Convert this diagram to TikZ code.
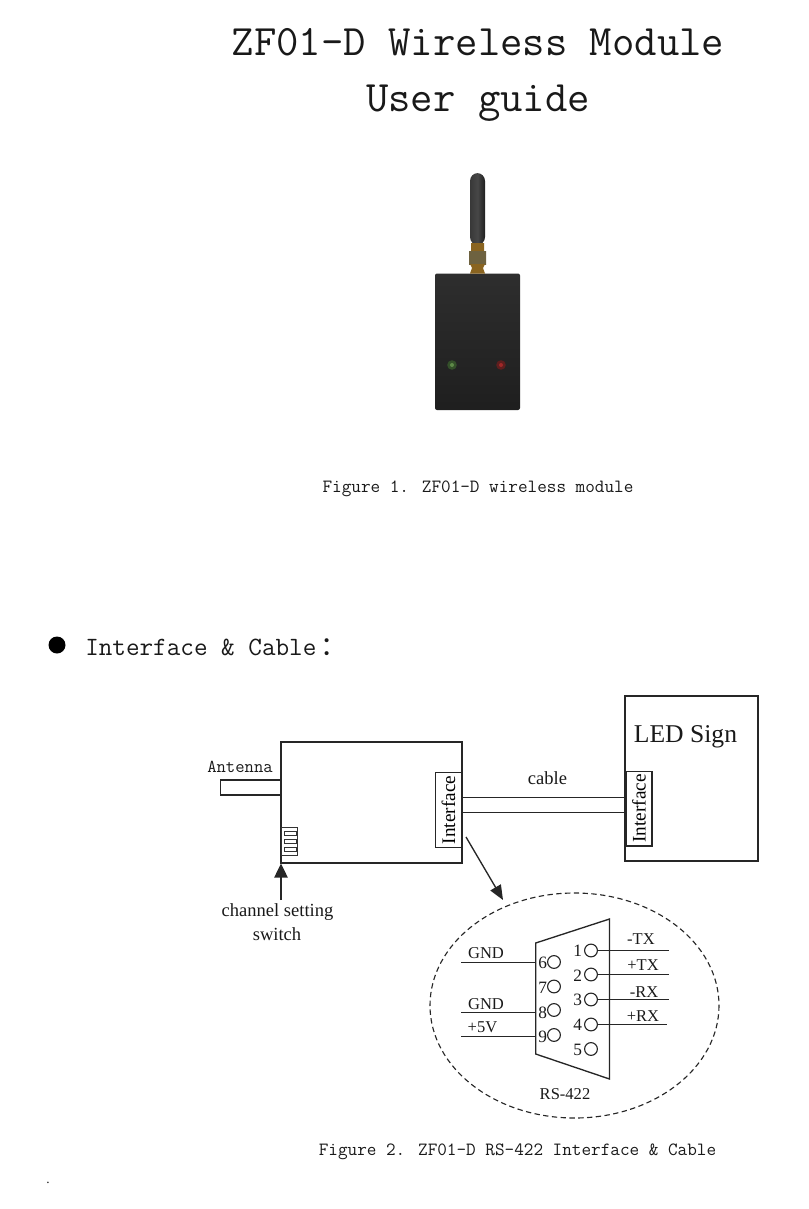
\documentclass[tikz,border=0pt]{standalone}
\usepackage{fontspec}
\setmainfont{Liberation Serif}
\newfontfamily\cjk{Noto Sans CJK SC}
\usetikzlibrary{arrows.meta}
\definecolor{gold}{HTML}{D9A83C}
\definecolor{golddark}{HTML}{8A6420}
\definecolor{nut}{HTML}{D8C590}
\definecolor{nutdark}{HTML}{6E6240}
\definecolor{ledg}{HTML}{34502A}
\definecolor{ledgc}{HTML}{5E8A48}
\definecolor{ledr}{HTML}{5E1E1E}
\definecolor{ledrc}{HTML}{A02828}
\tikzset{
  mono/.style={inner sep=0pt,font=\ttfamily\fontsize{#1}{#1}\selectfont,text=black!90},
  serif/.style={inner sep=0pt,font=\fontsize{#1}{#1}\selectfont,text=black!90},
  boxline/.style={draw=black!85,line width=1.2pt},
  thinline/.style={draw=black!85,line width=1pt},
  ifacebox/.style={boxline,fill=white,inner sep=0pt,rotate=90,minimum width=56pt,minimum height=19.5pt,font=\fontsize{14.4}{14.4}\selectfont},
  pin/.style={circle,draw=black!85,line width=0.85pt,minimum size=9.6pt,inner sep=0pt},
  pinno/.style={serif=13},
  wire/.style={draw=black!85,line width=1pt},
  sig/.style={serif=12.4},
  swbar/.style={draw=black!80,line width=0.6pt,fill=white,inner sep=0pt,minimum width=9pt,minimum height=3pt}
}
\begin{document}
\begin{tikzpicture}[x=0.75pt,y=-0.75pt]
\useasboundingbox (0,0) rectangle (808,1209);
% titles
\node[mono=32.6] (title1) at (478,42) {ZF01-D Wireless Module};
\node[mono=32.6] (title2) at (478,103) {User guide};
\node[mono=14] (cap1) at (478,489) {Figure 1. ZF01-D wireless module};
\node[mono=19.8,anchor=west] (head) at (85,647) {Interface \& Cable\hspace{3pt}{\cjk：}};
\fill[black] (57,645) circle (8.5);
\node[mono=14] (cap2) at (517.5,1152) {Figure 2. ZF01-D RS-422 Interface \& Cable};
\node[serif=10] (dot) at (48,1183) {.};
% photo
\shade[top color=black!82,bottom color=black!88,rounded corners=1.5] (435,273.5) rectangle (520,410);
\shade[left color=black!78,right color=black!88,middle color=black!72,rounded corners=6] (470,173) rectangle (485,245);
\shade[left color=golddark,middle color=gold,right color=golddark] (471,243) rectangle (484,251);
\shade[left color=nutdark,middle color=nut,right color=nutdark] (469,251) rectangle (486,264);
\shade[left color=golddark,middle color=gold!80!yellow,right color=golddark] (470,264) -- (485,264) -- (483,268) -- (485,273.5) -- (470,273.5) -- (472,268) -- cycle;
\fill[ledg] (452,365) circle (4.8);
\fill[ledgc] (452,365) circle (2);
\fill[ledr] (501,365) circle (4.8);
\fill[ledrc] (501,365) circle (2);
% module
\node[boxline,minimum width=135.75pt,minimum height=90.75pt,inner sep=0pt] (module) at (371.5,802.5) {};
\node[ifacebox] (ifaceA) at (448.5,810) {Interface};
\coordinate (antA) at (281,780);
\coordinate (antB) at (220.5,780);
\coordinate (antC) at (220.5,795);
\coordinate (antD) at (281,795);
\draw[boxline] (antA) -- (antB) -- (antC) -- (antD);
\node[mono=13.6] (antlab) at (240,767) {Antenna};
\node[draw=black!80,line width=0.7pt,inner sep=0pt,minimum width=12.5pt,minimum height=20.5pt] (switch) at (289.5,841.5) {};
\node[swbar] (sw1) at (290,833) {};
\node[swbar] (sw2) at (290,841) {};
\node[swbar] (sw3) at (290,849) {};
\coordinate (swfoot) at (281,900);
\coordinate (swtip) at (281,863.5);
\draw[thinline,-{Triangle[length=10.5pt,width=10pt]}] (swfoot) -- (swtip);
\node[serif=13.9] (chan1) at (277.5,912) {channel setting};
\node[serif=13.9] (chan2) at (277,934) {switch};
% LED sign
\node[boxline,minimum width=100pt,minimum height=123.75pt,inner sep=0pt] (led) at (691.5,778.5) {};
\node[serif=19.2] (ledlab) at (685.5,736.5) {LED Sign};
\node[ifacebox,line width=1pt] (ifaceB) at (639,808.5) {Interface};
% cable
\coordinate (c1a) at (462,797.5);
\coordinate (c1b) at (626,797.5);
\coordinate (c2a) at (462,812.5);
\coordinate (c2b) at (626,812.5);
\draw[thinline] (c1a) -- (c1b);
\draw[thinline] (c2a) -- (c2b);
\node[serif=13.9] (cablelab) at (547.5,778) {cable};
% pointer
\coordinate (pa) at (466,837);
\coordinate (pb) at (503,900);
\draw[thinline,-{Triangle[length=11pt,width=9pt]}] (pa) -- (pb);
% detail
\draw[black!85,line width=0.85pt,dash pattern=on 4pt off 2.6pt] (574.5,1005.5) ellipse [x radius=144.5,y radius=112.5];
\draw[thinline] (535.7,943) coordinate (s1) -- (609.5,919) -- (609.5,1079) -- (535.7,1054) -- cycle;
% left pins
\node[pin] (p6) at (554,962) {};
\node[pin] (p7) at (554,986.5) {};
\node[pin] (p8) at (554,1010) {};
\node[pin] (p9) at (554,1035) {};
\node[pinno] (n6) at (542.7,963) {6};
\node[pinno] (n7) at (542.7,988) {7};
\node[pinno] (n8) at (542.7,1012.5) {8};
\node[pinno] (n9) at (542.7,1037) {9};
% right pins
\node[pin] (p1) at (591,950.5) {};
\node[pin] (p2) at (591,974.5) {};
\node[pin] (p3) at (591,999.5) {};
\node[pin] (p4) at (591,1024.5) {};
\node[pin] (p5) at (591,1049) {};
\node[pinno] (n1) at (577.7,950.5) {1};
\node[pinno] (n2) at (577.7,975.5) {2};
\node[pinno] (n3) at (577.7,999.5) {3};
\node[pinno] (n4) at (577.7,1024.5) {4};
\node[pinno] (n5) at (577.7,1049.5) {5};
% wires
\coordinate (w6a) at (461,962.5); \coordinate (w6b) at (535.7,962.5);
\coordinate (w8a) at (461,1012.5); \coordinate (w8b) at (535.7,1012.5);
\coordinate (w9a) at (461,1036.5); \coordinate (w9b) at (535.7,1036.5);
\draw[wire] (w6a) -- (w6b);
\draw[wire] (w8a) -- (w8b);
\draw[wire] (w9a) -- (w9b);
\coordinate (w1) at (669,950.5); \coordinate (w2) at (669,974.5);
\coordinate (w3) at (669,999.5); \coordinate (w4) at (667,1024.5);
\draw[wire] (p1) -- (w1);
\draw[wire] (p2) -- (w2);
\draw[wire] (p3) -- (w3);
\draw[wire] (p4) -- (w4);
\node[sig] (gnd1) at (486,953) {GND};
\node[sig] (gnd2) at (486,1004) {GND};
\node[sig] (vcc) at (482.5,1027) {+5V};
\node[sig] (ntx) at (641,939) {-TX};
\node[sig] (ptx) at (643,965) {+TX};
\node[sig] (nrx) at (644,992) {-RX};
\node[sig] (prx) at (643,1016) {+RX};
\node[sig] (rs) at (565,1094) {RS-422};
\end{tikzpicture}
\end{document}
